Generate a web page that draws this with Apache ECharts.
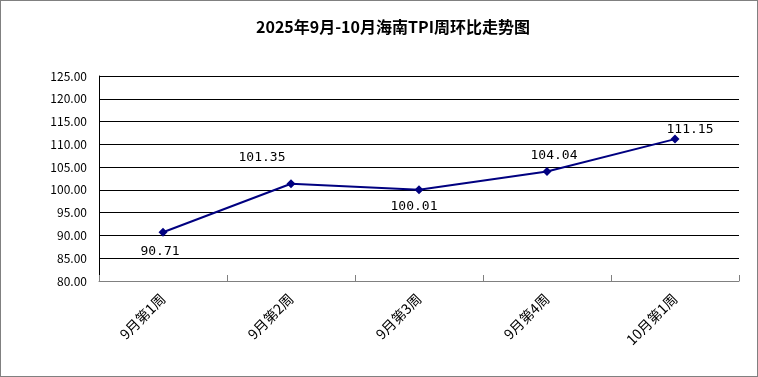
<!DOCTYPE html>
<html>
<head>
<meta charset="utf-8">
<script src="https://cdn.jsdelivr.net/npm/echarts@6/dist/echarts.min.js"></script>
<style>
  html, body { margin: 0; padding: 0; background: #fff; }
  #chart { width: 756px; height: 375px; border: 1px solid #808080; }
</style>
</head>
<body>
<div id="chart"></div>
<script>
const categories = ["9月第1周", "9月第2周", "9月第3周", "9月第4周", "10月第1周"];
const tpiValues = [90.71, 101.35, 100.01, 104.04, 111.15];
const yMin = 80;
const yMax = 125;
const yStep = 5;

// 数据标签相对数据点的偏移（样式）
const labelOffsets = [[-3, 19], [-29, -26], [-5, 17], [7, -16], [15, -9]];

const font = "'Noto Sans CJK SC', 'DejaVu Sans', sans-serif";
const monoFont = "'DejaVu Sans Mono', monospace";

const chart = echarts.init(document.getElementById("chart"));

const options = {
  animation: false,
  title: {
    text: "2025年9月-10月海南TPI周环比走势图",
    left: 250,
    top: 13,
    textStyle: { fontSize: 16, fontWeight: "bold", color: "#000", fontFamily: font },
  },
  grid: { left: 98, right: 18, top: 75, bottom: 95 },
  xAxis: {
    type: "category",
    data: categories,
    boundaryGap: true,
    axisLine: { lineStyle: { color: "#808080", width: 1 } },
    axisTick: { show: true, inside: true, length: 6, lineStyle: { color: "#808080" } },
    axisLabel: { rotate: 45, fontSize: 14, color: "#000", margin: 15, fontFamily: font },
  },
  yAxis: {
    type: "value",
    min: yMin,
    max: yMax,
    interval: yStep,
    axisLine: { show: true, lineStyle: { color: "#000" } },
    axisTick: { show: false },
    axisLabel: {
      fontSize: 12,
      color: "#000",
      margin: 12,
      fontFamily: font,
      formatter: (v) => v.toFixed(2),
    },
    splitLine: { lineStyle: { color: "#000", width: 1 } },
  },
  series: [
    {
      type: "line",
      data: tpiValues.map((v, i) => ({
        value: v,
        label: { offset: labelOffsets[i] },
      })),
      symbol: "diamond",
      symbolSize: 9,
      lineStyle: { color: "#000080", width: 2 },
      itemStyle: { color: "#000080" },
      label: {
        show: true,
        position: "inside",
        fontSize: 13,
        color: "#000",
        fontFamily: monoFont,
        formatter: (p) => p.value.toFixed(2),
      },
    },
  ],
};

chart.setOption(options);
</script>
</body>
</html>
